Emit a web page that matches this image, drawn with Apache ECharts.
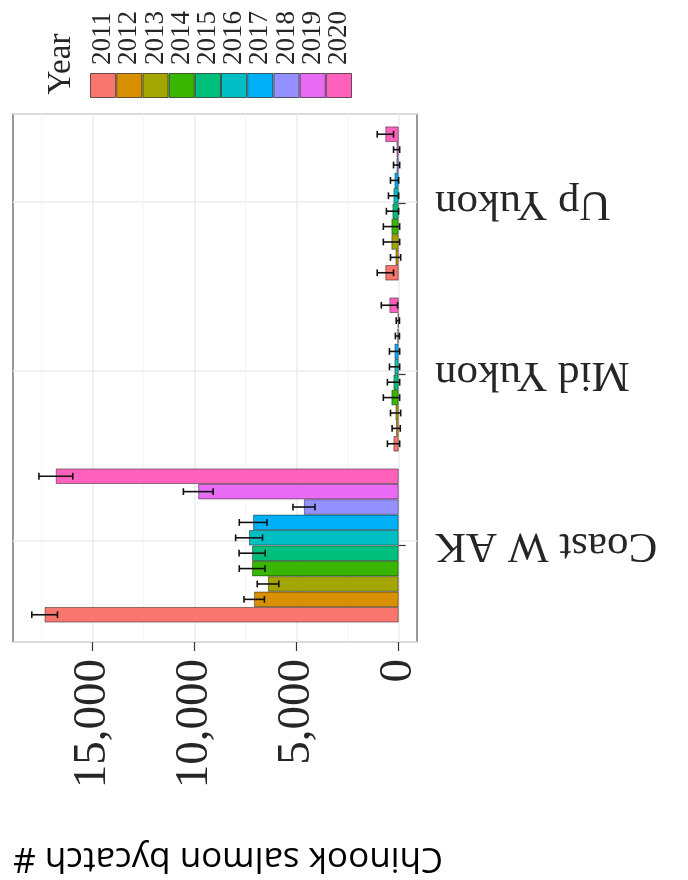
<!DOCTYPE html>
<html>
<head>
<meta charset="utf-8">
<script src="https://cdn.jsdelivr.net/npm/echarts@6/dist/echarts.min.js"></script>
<style>
html, body { margin: 0; padding: 0; background: #fff; }
#chart { width: 688px; height: 880px; }
</style>
</head>
<body>
<div id="chart"></div>
<script>
// data
var regions = ['Coast W AK', 'Mid Yukon', 'Up Yukon'];
var years = ['2011', '2012', '2013', '2014', '2015', '2016', '2017', '2018', '2019', '2020'];
var coastMean = [17350, 7080, 6400, 7180, 7180, 7330, 7130, 4640, 9820, 16800];
var coastSE = [630, 500, 530, 630, 640, 660, 680, 540, 730, 830];
var midMean = [250, 120, 150, 350, 250, 200, 200, 60, 40, 450];
var midSE = [300, 200, 250, 400, 300, 250, 250, 100, 80, 400];
var upMean = [650, 150, 350, 350, 300, 250, 200, 100, 100, 650];
var upSE = [400, 250, 400, 400, 300, 250, 200, 150, 150, 400];
var valueTicks = [0, 5000, 10000, 15000];
var yearColors = ['#F8766D', '#D89000', '#A3A500', '#39B600', '#00BF7D',
                  '#00BFC4', '#00B0F6', '#9590FF', '#E76BF3', '#FF62BC'];

var serif = '"Liberation Serif", "DejaVu Serif", serif';
var txt = '#262626';

var mychart = echarts.init(document.getElementById('chart'));

// echarts stacks the first bar series on top, so feed 2020 first to get 2011 at the bottom
var bars = years.map(function (y, i) {
    return {
        name: y,
        type: 'bar',
        xAxisIndex: 1,
        yAxisIndex: 1,
        barGap: '0%',
        barCategoryGap: '10%',
        itemStyle: { color: yearColors[i], borderColor: 'rgba(0,0,0,0.55)', borderWidth: 0.8 },
        data: [coastMean[i], midMean[i], upMean[i]]
    };
}).reverse();

var errData = [];
years.forEach(function (y, i) {
    errData.push([0, i, coastMean[i], coastSE[i]]);
    errData.push([1, i, midMean[i], midSE[i]]);
    errData.push([2, i, upMean[i], upSE[i]]);
});

function renderErr(params, api) {
    var cat = api.value(0), k = api.value(1), m = api.value(2), s = api.value(3);
    var band = api.size([0, 1])[1];
    var h = band * 0.9 / years.length;
    var yc = api.coord([m, cat])[1] + ((years.length - 1) / 2 - k) * h;
    var x1 = api.coord([m - s, cat])[0];
    var x2 = api.coord([m + s, cat])[0];
    var cap = h * 0.22;
    var st = { stroke: '#111', lineWidth: 1.6 };
    return {
        type: 'group',
        children: [
            { type: 'line', shape: { x1: x1, y1: yc, x2: x2, y2: yc }, style: st },
            { type: 'line', shape: { x1: x1, y1: yc - cap, x2: x1, y2: yc + cap }, style: st },
            { type: 'line', shape: { x1: x2, y1: yc - cap, x2: x2, y2: yc + cap }, style: st }
        ]
    };
}

mychart.setOption({
    backgroundColor: '#fff',
    animation: false,
    grid: [
        // panel frame
        { left: 13, right: 271, top: 114, bottom: 232, show: true, borderColor: '#555', borderWidth: 1.2, backgroundColor: 'transparent' },
        // bars
        { left: 13, right: 271, top: 118, bottom: 249 },
        // legend keys
        { left: 90, width: 262, top: 73, height: 25 }
    ],
    xAxis: [{
        gridIndex: 0,
        type: 'value',
        inverse: true,
        min: -900,
        max: 18900,
        splitNumber: 4,
        name: 'Chinook salmon bycatch #',
        nameLocation: 'middle',
        nameGap: 198,
        nameRotate: 180,
        nameTextStyle: { fontFamily: '"Open Sans", sans-serif', fontSize: 35, color: '#000', padding: [0, 26, 0, 0] },
        axisLine: { show: false, onZero: false },
        axisTick: { show: true, customValues: valueTicks, length: 9, lineStyle: { color: '#333', width: 1.2 } },
        axisLabel: {
            customValues: valueTicks,
            rotate: 90,
            margin: 17,
            fontFamily: serif,
            fontSize: 47,
            color: txt,
            formatter: function (v) { return Number(v).toLocaleString('en-US'); }
        },
        splitLine: { show: true, lineStyle: { color: '#ebebeb', width: 1.5 } },
        minorSplitLine: { show: true, lineStyle: { color: '#f4f4f4', width: 1 } },
        minorTick: { show: false, splitNumber: 2 }
    }, {
        gridIndex: 1,
        type: 'value',
        inverse: true,
        min: -900,
        max: 18900,
        show: false
    }, {
        gridIndex: 2,
        type: 'category',
        data: years,
        position: 'top',
        axisLine: { show: false },
        axisTick: { show: false },
        axisLabel: { interval: 0, rotate: 90, margin: 8, fontFamily: serif, fontSize: 27, color: txt }
    }],
    yAxis: [{
        gridIndex: 0,
        type: 'value',
        min: -0.6,
        max: 2.52,
        splitNumber: 3,
        axisLine: { show: false, onZero: false },
        axisTick: { show: false },
        axisLabel: { show: false },
        splitLine: { show: true, lineStyle: { color: '#ebebeb', width: 1.5 } }
    }, {
        gridIndex: 1,
        type: 'category',
        data: regions,
        position: 'right',
        axisLine: { show: false },
        axisTick: { show: true, alignWithLabel: true, length: 7, lineStyle: { color: '#333', width: 1.2 } },
        axisLabel: { rotate: 180, margin: 18, fontFamily: serif, fontSize: 43, color: txt },
        splitLine: { show: false }
    }, {
        gridIndex: 2,
        type: 'value',
        min: 0,
        max: 1,
        show: false
    }],
    graphic: [{
        type: 'text',
        x: 61,
        y: 64,
        rotation: Math.PI / 2,
        style: { text: 'Year', font: '33px ' + serif, fill: txt, align: 'center', verticalAlign: 'middle' }
    }],
    series: bars.concat([{
        type: 'custom',
        name: 'se',
        xAxisIndex: 1,
        yAxisIndex: 1,
        encode: { x: 2, y: 0 },
        data: errData,
        renderItem: renderErr,
        z: 5
    }, {
        type: 'bar',
        name: 'key',
        xAxisIndex: 2,
        yAxisIndex: 2,
        barCategoryGap: 0,
        data: years.map(function (y, i) {
            return { value: 1, itemStyle: { color: yearColors[i] } };
        }),
        itemStyle: { borderColor: 'rgba(0,0,0,0.6)', borderWidth: 1 }
    }])
});
</script>
</body>
</html>
